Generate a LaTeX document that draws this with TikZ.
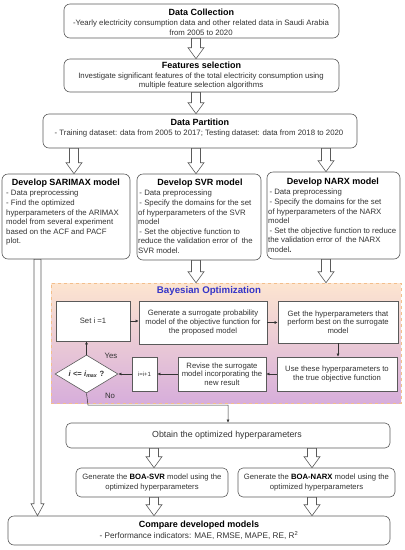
\documentclass[tikz,border=0pt]{standalone}
\usepackage{fontspec}
\setmainfont{Liberation Sans}
\usetikzlibrary{shapes.geometric,arrows.meta,calc}
\definecolor{boxline}{HTML}{5A5A5A}
\definecolor{bodytxt}{HTML}{333333}
\definecolor{botop}{HTML}{FDE5D0}
\definecolor{bobot}{HTML}{D7AEDB}
\definecolor{boborder}{HTML}{F3BE8C}
\definecolor{botitle}{HTML}{3535C8}
\newcommand\blkarrowx[6]{\draw[blk] let \p1=(#1), \p2=(#2) in (#3-#4,\y1) -- (#3-#4,\y2+#6) -- (#3-#5,\y2+#6) -- (#3,\y2) -- (#3+#5,\y2+#6) -- (#3+#4,\y2+#6) -- (#3+#4,\y1) -- cycle;}
\newcommand\blkarrow[3]{\blkarrowx{#1}{#2}{#3}{4.5pt}{8pt}{11pt}}
\tikzset{
  body/.style={font=\fontsize{7.8}{9.6}\selectfont, text=bodytxt},
  rbox/.style={draw=boxline, line width=0.6pt, rounded corners=6pt, fill=white, inner sep=0pt},
  sbox/.style={draw=boxline, line width=0.6pt, fill=white, inner sep=0pt, align=center, text=bodytxt, font=\fontsize{7.7}{8.6}\selectfont},
  ttl/.style={font=\fontsize{9}{10}\selectfont\bfseries, text=black, inner sep=0pt},
  blk/.style={draw=boxline, line width=0.6pt, fill=white},
  thin/.style={draw=black!80, line width=0.5pt, -{Latex[length=3pt,width=3pt]}},
}
\begin{document}
\begin{tikzpicture}[x=1pt,y=-1pt]
\useasboundingbox (0,0) rectangle (405,550);

% top boxes
\node[rbox, minimum width=275, minimum height=34] (dc) at (201.5,21) {};
\node[ttl] (dct) at (201.5,12) {Data Collection};
\node[body, align=center, inner sep=0pt] (dcb) at (201,27.5) {-Yearly electricity consumption data and other related data in Saudi Arabia\\from 2005 to 2020};

\node[rbox, minimum width=275, minimum height=33] (fs) at (201.5,75.5) {};
\node[ttl] (fst) at (201.5,65) {Features selection};
\node[body, align=center, inner sep=0pt] (fsb) at (201,81) {Investigate significant features of the total electricity consumption using\\multiple feature selection algorithms};

\node[rbox, minimum width=314, minimum height=34] (dp) at (200,131) {};
\node[ttl] (dpt) at (200,122.5) {Data Partition};
\node[body, inner sep=0pt] (dpb) at (199,133) {- Training dataset: data from 2005 to 2017; Testing dataset: data from 2018 to 2020};

\blkarrow{dc.south}{fs.north}{196pt}
\blkarrow{fs.south}{dp.north}{196pt}

% develop boxes
\node[rbox, minimum width=128, minimum height=85] (sar) at (66,216.5) {};
\node[ttl] (sart) at (66,183) {Develop SARIMAX model};
\node[body, align=left, anchor=north west, inner sep=0pt] (sarb) at (6,190) {- Data preprocessing\\- Find the optimized\\hyperparameters of the ARIMAX\\model from several experiment\\based on the ACF and PACF\\plot.};

\node[rbox, minimum width=124, minimum height=86] (svr) at (199,217) {};
\node[ttl] (svrt) at (200,183) {Develop SVR model};
\node[body, align=left, anchor=north west, inner sep=0pt] (svrb) at (138,190) {\,- Data preprocessing\\\,- Specify the domains for the set\\of hyperparameters of the SVR\\model\\\,- Set the objective function to\\reduce the validation error of \ the\\SVR model.};

\node[rbox, minimum width=133, minimum height=87] (narx) at (333.5,215.5) {};
\node[ttl] (narxt) at (333,182) {Develop NARX model};
\node[body, align=left, anchor=north west, inner sep=0pt] (narxb) at (268,189) {\,- Data preprocessing\\\,- Specify the domains for the set\\of hyperparameters of the NARX\\model\\\,- Set the objective function to reduce\\the validation error of \ the NARX\\model\textbf{.}};

\blkarrow{dp.south}{sar.north}{74pt}
\blkarrow{dp.south}{svr.north}{196pt}
\blkarrow{dp.south}{narx.north}{326pt}

% Bayesian optimization region
\node[draw=boborder, dashed, line width=0.5pt, top color=botop, bottom color=bobot, minimum width=350, minimum height=120, inner sep=0pt] (bo) at (226,343) {};
\node[font=\fontsize{9.7}{11}\selectfont\bfseries, text=botitle, inner sep=0pt] (bot) at (209,291) {Bayesian Optimization};

\blkarrow{svr.south}{bo.north}{196pt}
\blkarrow{narx.south}{bo.north}{326pt}

\node[sbox, minimum width=74, minimum height=40] (seti) at (93,321) {Set i =1};
\node[sbox, minimum width=128, minimum height=43] (gen) at (203,322.5) {Generate a surrogate probability\\model of the objective function for\\the proposed model};
\node[sbox, minimum width=120, minimum height=42] (get) at (338,322) {Get the hyperparameters that\\perform best on the surrogate\\model};
\node[sbox, minimum width=120, minimum height=34] (use) at (337,374) {Use these hyperparameters to\\the true objective function};
\node[sbox, minimum width=88, minimum height=34] (rev) at (222,374) {Revise the surrogate\\model incorporating the\\new result};
\node[sbox, minimum width=25, minimum height=34, font=\fontsize{6}{7}\selectfont] (inc) at (144.5,374) {i=i+1};
\node[diamond, draw=boxline, line width=0.6pt, fill=white, minimum width=63, minimum height=38, inner sep=0pt, aspect=1.66, font=\fontsize{7.6}{8.5}\selectfont, text=bodytxt] (dia) at (86.5,374) {\textbf{\textit{i} <= \textit{i}\textsubscript{\textit{max}} ?}};

\draw[thin] (seti.east) -- (gen.west |- seti.east);
\draw[thin] (gen.east) -- (get.west |- gen.east);
\draw[thin] (get.south) -- (get.south |- use.north);
\draw[thin] (use.west) -- (rev.east);
\draw[thin] (rev.west) -- (inc.east);
\draw[thin] (inc.west) -- (dia.east);
\draw[thin] (dia.north) -- (dia.north |- seti.south);
\node[body, inner sep=0pt] (yes) at (111,356) {Yes};
\node[body, inner sep=0pt] (no) at (110,396) {No};

% bottom part
\node[rbox, rounded corners=5pt, minimum width=324, minimum height=25] (obt) at (228,435.5) {};
\node[body, font=\fontsize{8.8}{10}\selectfont, inner sep=0pt] (obtt) at (227,435.5) {Obtain the optimized hyperparameters};

\coordinate (nobend) at (88,405);
\draw[thin] (dia.south) -- (nobend) -| (obt.north);

\node[rbox, rounded corners=5pt, minimum width=152, minimum height=29] (bsvr) at (152,482.5) {};
\node[body, font=\fontsize{7.7}{9.5}\selectfont, align=center, inner sep=0pt] (bsvrt) at (152,482.5) {Generate the \textbf{\color{black}BOA-SVR} model using the\\optimized hyperparameters};
\node[rbox, rounded corners=5pt, minimum width=157, minimum height=29] (bnarx) at (316.5,482.5) {};
\node[body, font=\fontsize{7.7}{9.5}\selectfont, align=center, inner sep=0pt] (bnarxt) at (316.5,482.5) {Generate the \textbf{\color{black}BOA-NARX} model using the\\optimized hyperparameters};

\blkarrow{obt.south}{bsvr.north}{154pt}
\blkarrow{obt.south}{bnarx.north}{312pt}

\node[rbox, minimum width=382, minimum height=29] (cmp) at (199,530.5) {};
\node[ttl] (cmpt) at (199,525) {Compare developed models};
\node[body, font=\fontsize{8.2}{9.5}\selectfont, inner sep=0pt] (cmpb) at (199,535.5) {- Performance indicators: MAE, RMSE, MAPE, RE, R\textsuperscript{2}};

\blkarrow{bsvr.south}{cmp.north}{154pt}
\blkarrow{bnarx.south}{cmp.north}{312pt}
\blkarrowx{sar.south}{cmp.north}{37.5pt}{3.5pt}{6.5pt}{12pt}
\end{tikzpicture}
\end{document}
